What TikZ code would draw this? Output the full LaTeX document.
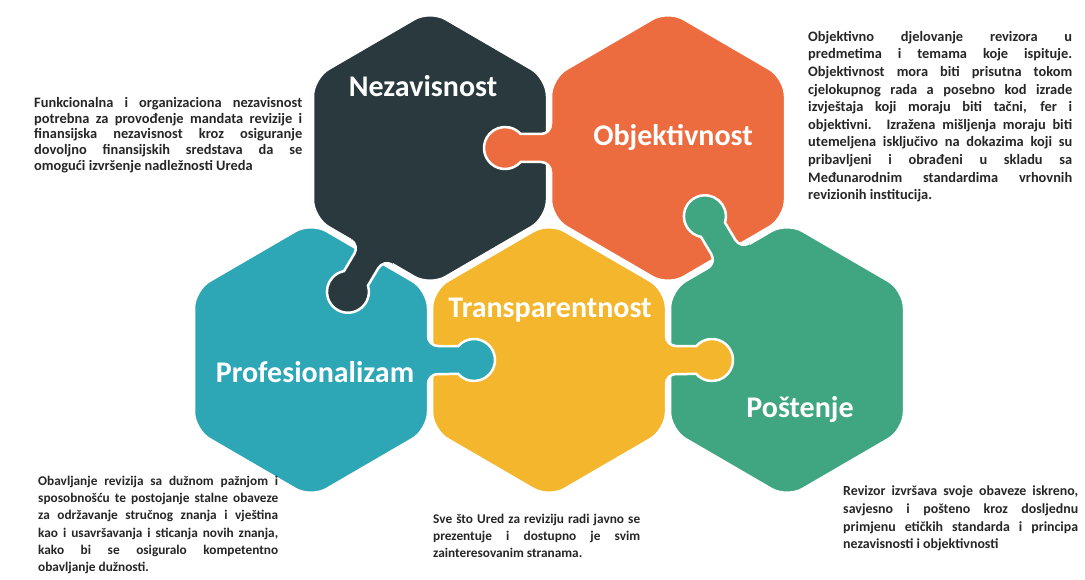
\documentclass[tikz,border=0pt]{standalone}
\usepackage{fontspec}
\setmainfont{Carlito}
\usepackage{tikz}
\usetikzlibrary{calc}

\definecolor{NezDark}{RGB}{42,57,61}
\definecolor{ObjOrange}{RGB}{236,107,63}
\definecolor{ProTeal}{RGB}{45,166,182}
\definecolor{TraYellow}{RGB}{244,182,44}
\definecolor{PosGreen}{RGB}{64,166,129}
\definecolor{BodyText}{RGB}{38,38,38}

\tolerance=10000
\hyphenpenalty=10000

% one hexagonal piece, centred at #1
\newcommand{\hexpiece}[2]{%
    \begin{scope}[shift={(#1)}]
        \filldraw [piece, fill=#2] (117,0) -- (117,70) -- (0,138) -- (-117,70)
                   -- (-117,-70) -- (0,-138) -- (117,-70) -- cycle;
    \end{scope}}
% puzzle tab of colour #3, leaving the gap at #1 in direction #2
\newcommand{\knob}[3]{%
    \begin{scope}[shift={(#1)}, rotate=#2]
        \fill [#3] (-2,-24) arc [start angle=180, end angle=90, radius=10] -- (28.35,-14)
                   arc [start angle=-138.19, end angle=138.19, radius=21] -- (8,14)
                   arc [start angle=-90, end angle=-180, radius=10] -- (-10,24) -- (-10,-24) -- cycle;
        \draw [rim] (-2,-24) arc [start angle=180, end angle=90, radius=10] -- (28.35,-14)
                   arc [start angle=-138.19, end angle=138.19, radius=21] -- (8,14)
                   arc [start angle=-90, end angle=-180, radius=10];
    \end{scope}}

\begin{document}
\begin{tikzpicture}[x=1pt, y=-1pt,
        piece/.style={draw=white, line width=2.5pt, rounded corners=18pt},
        rim/.style={white, line width=2.5pt},
        title/.style={text=white, inner sep=0pt, font=\fontsize{30}{36}\selectfont\bfseries},
        body/.style={anchor=north west, inner sep=0pt, align=justify, text=BodyText}]
    \fill [white] (0,0) rectangle (1085,580);
    \useasboundingbox (0,0) rectangle (1085,580);

    % centres
    \coordinate (nez) at (430,148);
    \coordinate (obj) at (668,148);
    \coordinate (pro) at (311,360);
    \coordinate (tra) at (549,360);
    \coordinate (pos) at (787,360);

    % pieces
    \hexpiece{nez}{NezDark}
    \hexpiece{obj}{ObjOrange}
    \hexpiece{pro}{ProTeal}
    \hexpiece{tra}{TraYellow}
    \hexpiece{pos}{PosGreen}

    % tabs
    \knob{$(obj)!0.5!(nez)$}{180}{ObjOrange}
    \knob{$(nez)!0.5!(pro)$}{239.1}{NezDark}
    \knob{$(pro)!0.5!(tra)$}{0}{ProTeal}
    \knob{$(tra)!0.5!(pos)$}{0}{TraYellow}
    \knob{$(pos)!0.5!(obj)$}{120.9}{PosGreen}

    % titles
    \node [title] (nezavisnost) at (423,86) {Nezavisnost};
    \node [title] (objektivnost) at (673,137) {Objektivnost};
    \node [title] (profesionalizam) at (315,372) {Profesionalizam};
    \node [title] (transparentnost) at (550,310) {Transparentnost};
    \node [title] (postenje) at (800,410) {Poštenje};

    % descriptions
    \node [body, text width=268pt, font=\fontsize{14.4}{15.7}\selectfont\bfseries] (nezdesc) at (34,97)
        {Funkcionalna i organizaciona nezavisnost\linebreak
         potrebna za provođenje mandata revizije i\linebreak
         finansijska nezavisnost kroz osiguranje\linebreak
         dovoljno finansijskih sredstava da se\linebreak
         omogući izvršenje nadležnosti Ureda};
    \node [body, text width=264pt, font=\fontsize{14.4}{17.6}\selectfont\bfseries] (objdesc) at (808,31)
        {Objektivno djelovanje revizora u\linebreak
         predmetima i temama koje ispituje.\linebreak
         Objektivnost mora biti prisutna tokom\linebreak
         cjelokupnog rada a posebno kod izrade\linebreak
         izvještaja koji moraju biti tačni, fer i\linebreak
         objektivni. Izražena mišljenja moraju biti\linebreak
         utemeljena isključivo na dokazima koji su\linebreak
         pribavljeni i obrađeni u skladu sa\linebreak
         Međunarodnim standardima vrhovnih\linebreak
         revizionih institucija.};
    \node [body, text width=240pt, font=\fontsize{13.3}{17.2}\selectfont\bfseries] (prodesc) at (38,476)
        {Obavljanje revizija sa dužnom pažnjom i\linebreak
         sposobnošću te postojanje stalne obaveze\linebreak
         za održavanje stručnog znanja i vještina\linebreak
         kao i usavršavanja i sticanja novih znanja,\linebreak
         kako bi se osiguralo kompetentno\linebreak
         obavljanje dužnosti.};
    \node [body, text width=207pt, font=\fontsize{13.3}{17}\selectfont\bfseries] (tradesc) at (433,514)
        {Sve što Ured za reviziju radi javno se\linebreak
         prezentuje i dostupno je svim\linebreak
         zainteresovanim stranama.};
    \node [body, text width=235pt, font=\fontsize{13.9}{17.6}\selectfont\bfseries] (posdesc) at (843,486)
        {Revizor izvršava svoje obaveze iskreno,\linebreak
         savjesno i pošteno kroz dosljednu\linebreak
         primjenu etičkih standarda i principa\linebreak
         nezavisnosti i objektivnosti};
\end{tikzpicture}
\end{document}
